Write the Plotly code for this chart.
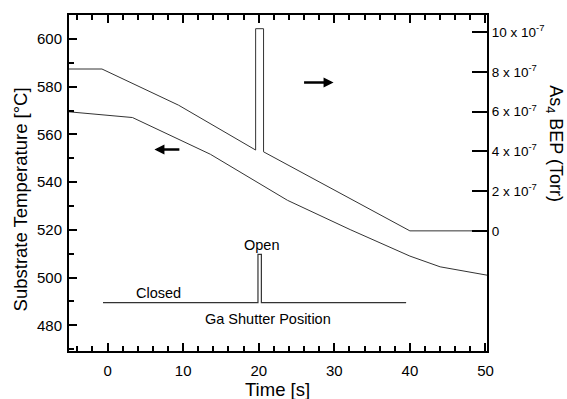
import plotly.graph_objects as go

# Substrate temperature (left axis, °C)
temp_t = [-5.1, 3.3, 13.6, 23.8, 32.1, 40.0, 44.0, 50.2]
temp_v = [569.5, 567.1, 551.7, 532.4, 520.1, 509.0, 504.5, 501.0]

# As4 BEP (right axis, Torr)
bep_t = [-5.1, -0.74, 9.39, 19.59, 19.59, 20.64, 20.64, 32.1, 40.0, 50.2]
bep_v = [8.15e-7, 8.15e-7, 6.33e-7, 4.07e-7, 10.18e-7, 10.18e-7, 3.98e-7, 1.63e-7, 0.0, 0.0]

# Ga shutter position (drawn in left-axis units)
shut_t = [-0.6, 19.9, 19.9, 20.35, 20.35, 39.5]
shut_v = [489.5, 489.5, 509.7, 509.7, 489.5, 489.5]

bep_ticks = [0, 2e-7, 4e-7, 6e-7, 8e-7, 10e-7]
bep_ticktext = ["0", "2 x 10<sup>-7</sup>", "4 x 10<sup>-7</sup>", "6 x 10<sup>-7</sup>",
                "8 x 10<sup>-7</sup>", "10 x 10<sup>-7</sup>"]

FONT = "Liberation Sans, Arial, sans-serif"
LC = "#333333"

fig = go.Figure()
fig.add_trace(go.Scatter(x=temp_t, y=temp_v, mode="lines",
                         line=dict(color=LC, width=1), yaxis="y", showlegend=False))
fig.add_trace(go.Scatter(x=shut_t, y=shut_v, mode="lines",
                         line=dict(color=LC, width=1.2), yaxis="y", showlegend=False))
fig.add_trace(go.Scatter(x=bep_t, y=bep_v, mode="lines",
                         line=dict(color=LC, width=1), yaxis="y2", showlegend=False))

fig.update_layout(
    width=567, height=399,
    margin=dict(l=68.7, r=80.3, t=15, b=48.3),
    paper_bgcolor="white", plot_bgcolor="white",
    font=dict(family=FONT, size=15, color="black"),
    xaxis=dict(range=[-5.1, 50.2], tickvals=[0, 10, 20, 30, 40, 50],
               ticks="inside", ticklen=8, tickwidth=1.5, tickcolor="black",
               showline=True, linecolor="black", linewidth=2, mirror="ticks",
               showgrid=False, zeroline=False, ticklabelstandoff=5,
               tickfont=dict(size=15),
               minor=dict(dtick=2, tick0=0, ticks="inside", ticklen=5, tickwidth=1.5,
                          tickcolor="black", showgrid=False)),
    yaxis=dict(range=[469.2, 610.1], tickvals=[480, 500, 520, 540, 560, 580, 600],
               ticks="inside", ticklen=8, tickwidth=1.5, tickcolor="black",
               showline=True, linecolor="black", linewidth=2, mirror=False,
               showgrid=False, zeroline=False, ticklabelstandoff=2,
               tickfont=dict(size=15),
               minor=dict(dtick=10, tick0=0, ticks="inside", ticklen=5, tickwidth=1.5,
                          tickcolor="black", showgrid=False)),
    yaxis2=dict(range=[-6.05e-7, 10.87e-7], overlaying="y", side="right",
                tickvals=bep_ticks, ticktext=bep_ticktext,
                ticks="inside", ticklen=15, tickwidth=2, tickcolor="black",
                showline=True, linecolor="black", linewidth=2,
                tickfont=dict(size=13.5),
                showgrid=False, zeroline=False, ticklabelstandoff=0),
)

ann = [
    dict(text="Substrate Temperature [°C]", x=-0.1165, y=0.452, textangle=-90, size=18.5),
    dict(text="Time [s]", x=0.498, y=-0.114, textangle=0, size=18.5),
    dict(text="As<sub>4</sub> BEP (Torr)", x=1.162, y=0.616, textangle=90, size=18),
]
for a in ann:
    fig.add_annotation(text=a["text"], x=a["x"], y=a["y"], xref="paper", yref="paper",
                       textangle=a["textangle"], showarrow=False,
                       font=dict(family=FONT, size=a["size"], color="black"),
                       xanchor="center", yanchor="middle")

# in-plot labels
fig.add_annotation(text="Open", x=20.4, y=513.6, xref="x", yref="y", showarrow=False,
                   font=dict(family=FONT, size=14.5))
fig.add_annotation(text="Closed", x=6.7, y=493.7, xref="x", yref="y", showarrow=False,
                   font=dict(family=FONT, size=14.5))
fig.add_annotation(text="Ga Shutter Position", x=21.2, y=482.5, xref="x", yref="y",
                   showarrow=False, font=dict(family=FONT, size=14.5))

# arrows
fig.add_annotation(x=6.2, y=553.7, ax=9.7, ay=553.7, xref="x", yref="y", axref="x", ayref="y",
                   text="", showarrow=True, arrowhead=2, arrowsize=0.8, arrowwidth=2.5,
                   arrowcolor="black")
fig.add_annotation(x=29.9, y=581.8, ax=25.8, ay=581.8, xref="x", yref="y", axref="x", ayref="y",
                   text="", showarrow=True, arrowhead=2, arrowsize=0.8, arrowwidth=2.5,
                   arrowcolor="black")

fig.write_html("out.html")
